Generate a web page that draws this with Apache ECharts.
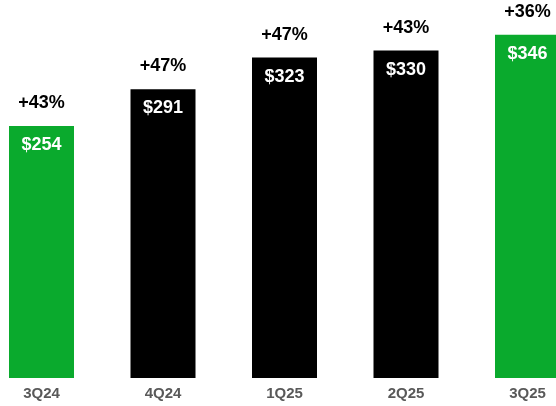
<!DOCTYPE html>
<html><head><meta charset="utf-8">
<script src="https://cdn.jsdelivr.net/npm/echarts@6/dist/echarts.min.js"></script>
<style>html,body{margin:0;padding:0;background:#fff}#c{width:556px;height:406px}</style>
</head><body><div id="c"></div>
<script>
var categories = ['3Q24', '4Q24', '1Q25', '2Q25', '3Q25'];
var revenue = [254, 291, 323, 330, 346];
var growth = [43, 47, 47, 43, 36];
var highlighted = ['3Q24', '3Q25'];

var GREEN = '#0AAA2D';
var font = '"Liberation Sans", Arial, sans-serif';
var chart = echarts.init(document.getElementById('c'), null, {renderer: 'canvas'});
chart.setOption({
  animation: false,
  backgroundColor: '#fff',
  grid: {left: -19.25, width: 607.5, top: 1, height: 377, containLabel: false, outerBoundsMode: 'none'},
  xAxis: {
    type: 'category', data: categories,
    axisLine: {show: false}, axisTick: {show: false},
    axisLabel: {color: '#595959', fontWeight: 'bold', fontSize: 15, fontFamily: font, margin: 8}
  },
  yAxis: {type: 'value', min: 0, max: 380, show: false, splitLine: {show: false}},
  series: [
    {
      type: 'bar', barWidth: 65,
      data: revenue.map(function (v, i) {
        return {value: v, itemStyle: {color: highlighted.indexOf(categories[i]) >= 0 ? GREEN : '#000'}};
      }),
      label: {
        show: true, position: 'insideTop', distance: 10,
        color: '#fff', fontWeight: 'bold', fontSize: 18, fontFamily: font,
        formatter: function (p) { return '$' + p.value; }
      }
    },
    {
      type: 'bar', barWidth: 65, barGap: '-100%', silent: true,
      data: revenue,
      itemStyle: {color: 'rgba(0,0,0,0)'},
      label: {
        show: true, position: 'top', distance: 14,
        color: '#000', fontWeight: 'bold', fontSize: 18, fontFamily: font,
        formatter: function (p) { return '+' + growth[p.dataIndex] + '%'; }
      }
    }
  ]
});
</script></body></html>
